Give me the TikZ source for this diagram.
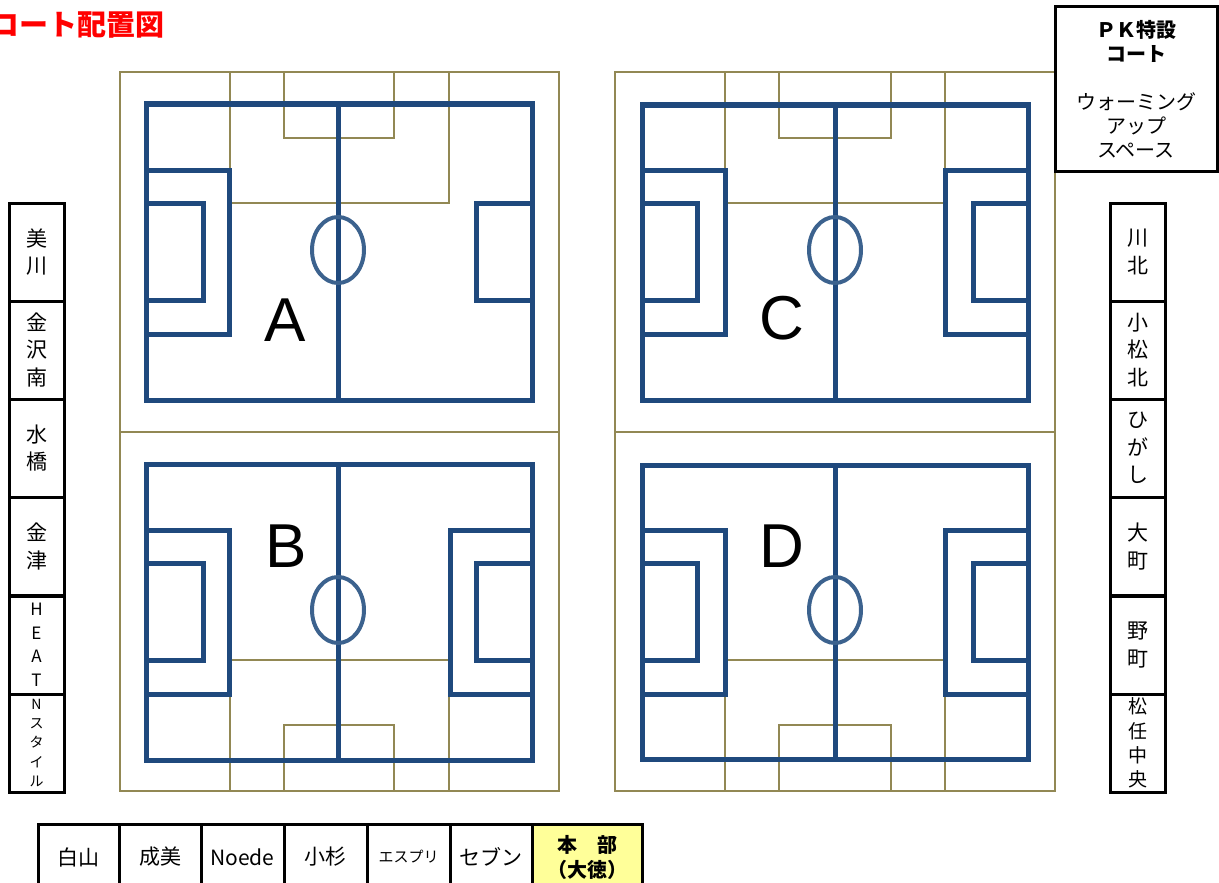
\documentclass[tikz,border=0pt]{standalone}
\usepackage{fontspec}
\newfontfamily\jpfont{Noto Sans CJK JP}
\newfontfamily\letterfont{Liberation Sans}
\usepackage{tikz}
\usetikzlibrary{backgrounds}
\definecolor{pitchblue}{RGB}{31,73,125}
\definecolor{circleblue}{RGB}{60,98,142}
\definecolor{groundolive}{RGB}{146,136,84}
\definecolor{honbuyellow}{RGB}{255,255,153}
\newcommand{\pitchcolor}{pitchblue}
\newcommand{\circlecolor}{circleblue}
\newcommand{\groundcolor}{groundolive}
\newcommand{\pitchwidth}{5pt}
\newcommand{\groundwidth}{2.6pt}
\newcommand{\boxwidth}{3pt}

\begin{document}
\begin{tikzpicture}[x=1pt,y=-1pt,
  ground/.style={\groundcolor, line width=\groundwidth},
  pitch/.style={\pitchcolor, line width=\pitchwidth},
  centrecircle/.style={\circlecolor, line width=4pt},
  fieldlabel/.style={inner sep=0pt, font=\letterfont\fontsize{62}{62}\selectfont},
  teambox/.style={draw, line width=\boxwidth, minimum width=55pt, minimum height=98pt, inner sep=0pt, align=center, font=\jpfont\fontsize{21}{27.5}\selectfont},
  benchbox/.style={draw, line width=\boxwidth, minimum height=66pt, inner sep=0pt, align=center, font=\jpfont\fontsize{21}{25}\selectfont}]
\useasboundingbox (0,0) rectangle (1219,883);
\clip (0,0) rectangle (1219,883);
%title
\node[anchor=east, red, inner sep=0pt, font=\jpfont\bfseries\fontsize{29}{29}\selectfont] (title) at (165,25) {コート配置図};
%A
\begin{scope}[shift={(120,72)}]
\draw[ground] (0,0) rectangle (439,360);
\draw[ground] (110,0) -- (110,131) -- (329,131) -- (329,0);
\draw[ground] (164,0) -- (164,66) -- (274,66) -- (274,0);
\draw[pitch] (26,32) rectangle (412,328);
\draw[pitch] (218,32) -- (218,328);
\draw[pitch] (26,98) rectangle (109,262);
\draw[pitch] (26,131) rectangle (83,228);
\draw[pitch] (356,131) rectangle (412,228);
\draw[centrecircle] (218,178) ellipse (26pt and 33pt);
\node[fieldlabel] (fieldA) at (165,248) {A};
\end{scope}
%B
\begin{scope}[shift={(120,432)}]
\draw[ground] (0,0) rectangle (439,359);
\draw[ground] (110,359) -- (110,228) -- (329,228) -- (329,359);
\draw[ground] (164,359) -- (164,293) -- (274,293) -- (274,359);
\draw[pitch] (26,32) rectangle (412,328);
\draw[pitch] (218,32) -- (218,328);
\draw[pitch] (26,98) rectangle (109,262);
\draw[pitch] (26,131) rectangle (83,228);
\draw[pitch] (330,98) rectangle (412,262);
\draw[pitch] (356,131) rectangle (412,228);
\draw[centrecircle] (218,178) ellipse (26pt and 33pt);
\node[fieldlabel] (fieldB) at (166,114) {B};
\end{scope}
%C
\begin{scope}[shift={(615,72)}]
\draw[ground] (0,0) rectangle (440,360);
\draw[ground] (110,0) -- (110,131) -- (330,131) -- (330,0);
\draw[ground] (164,0) -- (164,66) -- (276,66) -- (276,0);
\draw[pitch] (27,33) rectangle (413,328);
\draw[pitch] (220,33) -- (220,328);
\draw[pitch] (27,98) rectangle (110,262);
\draw[pitch] (27,131) rectangle (82,228);
\draw[pitch] (330,98) rectangle (413,262);
\draw[pitch] (358,131) rectangle (413,228);
\draw[centrecircle] (220,178) ellipse (26pt and 33pt);
\node[fieldlabel] (fieldC) at (167,246) {C};
\end{scope}
%D
\begin{scope}[shift={(615,432)}]
\draw[ground] (0,0) rectangle (440,359);
\draw[ground] (110,359) -- (110,228) -- (330,228) -- (330,359);
\draw[ground] (164,359) -- (164,293) -- (276,293) -- (276,359);
\draw[pitch] (27,33) rectangle (413,327);
\draw[pitch] (220,33) -- (220,327);
\draw[pitch] (27,98) rectangle (110,262);
\draw[pitch] (27,131) rectangle (82,228);
\draw[pitch] (330,98) rectangle (413,262);
\draw[pitch] (358,131) rectangle (413,228);
\draw[centrecircle] (220,178) ellipse (26pt and 33pt);
\node[fieldlabel] (fieldD) at (167,114) {D};
\end{scope}
%PK
\node[draw, line width=\boxwidth, minimum width=162pt, minimum height=164pt, inner sep=0pt, align=center, fill=white, font=\jpfont\fontsize{20}{24}\selectfont] (pkcourt) at (1136,89) {{\bfseries ＰＫ特設}\\{\bfseries コート}\\[24pt]ウォーミング\\アップ\\スペース};
%left
\node[teambox] (mikawa) at (36.5,252) {美\\川};
\node[teambox] (kanazawaminami) at (36.5,350) {金\\沢\\南};
\node[teambox] (mizuhashi) at (36.5,448) {水\\橋};
\node[teambox] (kanazu) at (36.5,546.5) {金\\津};
\node[teambox, font=\jpfont\fontsize{17}{23.5}\selectfont] (heat) at (36.5,645) {H\\E\\A\\T};
\node[teambox, font=\jpfont\fontsize{14}{19.3}\selectfont] (nstyle) at (36.5,743) {N\\ス\\タ\\イ\\ル};
%right
\node[teambox] (kawakita) at (1137.5,252) {川\\北};
\node[teambox] (komatsukita) at (1137.5,350) {小\\松\\北};
\node[teambox] (higashi) at (1137.5,448) {ひ\\が\\し};
\node[teambox] (omachi) at (1137.5,546.5) {大\\町};
\node[teambox] (nomachi) at (1137.5,645) {野\\町};
\node[teambox, font=\jpfont\fontsize{19}{24.3}\selectfont] (mattochuo) at (1137.5,743) {松\\任\\中\\央};
%bottom
\node[benchbox, minimum width=81pt] (hakusan) at (78.5,857) {白山};
\node[benchbox, minimum width=82pt] (seibi) at (160,857) {成美};
\node[benchbox, minimum width=83pt] (noede) at (242.5,857) {Noede};
\node[benchbox, minimum width=83pt] (kosugi) at (325.5,857) {小杉};
\node[benchbox, minimum width=83pt, font=\jpfont\fontsize{15}{20}\selectfont] (esupuri) at (408.5,857) {エスプリ};
\node[benchbox, minimum width=82pt] (sebun) at (491,857) {セブン};
\node[benchbox, minimum width=110pt, fill=honbuyellow, font=\jpfont\bfseries\fontsize{20}{25}\selectfont] (honbu) at (587,857) {本　部\\（大徳）};
\end{tikzpicture}
\end{document}
